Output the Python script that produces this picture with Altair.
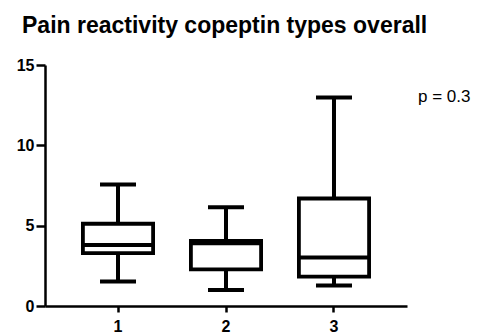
import altair as alt
import pandas as pd

# ---- data ----
categories = ["1", "2", "3"]
whisker_low = [1.52, 1.0, 1.27]
q1 = [3.29, 2.28, 1.83]
median = [3.8, 3.9, 3.02]
q3 = [5.12, 4.05, 6.69]
whisker_high = [7.56, 6.15, 12.98]
y_ticks = [0, 5, 10, 15]
p_label = "p = 0.3"
title_text = "Pain reactivity copeptin types overall"

df = pd.DataFrame({
    "group": categories,
    "low": whisker_low,
    "q1": q1,
    "median": median,
    "q3": q3,
    "high": whisker_high,
})

FONT = "Liberation Sans"
LW = 4

x_axis = alt.Axis(title=None, labelAngle=0, labelFontSize=16, labelFontWeight="bold",
                  labelFont=FONT, labelPadding=6, tickSize=6, tickWidth=2.5,
                  domainWidth=2.5, labelColor="black", tickColor="black", domainColor="black")
y_axis = alt.Axis(title=None, values=y_ticks, labelFontSize=16, labelFontWeight="bold",
                  labelFont=FONT, labelPadding=2, tickSize=9, tickWidth=2.5,
                  domainWidth=2.5, labelColor="black", tickColor="black", domainColor="black",
                  grid=False)

x_enc = alt.X("group:N", sort=categories,
              scale=alt.Scale(paddingInner=0.35, paddingOuter=0.351), axis=x_axis)
y_scale = alt.Scale(domain=[0, 15], nice=False)

def Y(field):
    return alt.Y(f"{field}:Q", scale=y_scale, axis=y_axis)

base = alt.Chart(df)

whiskers = base.mark_rule(color="black", strokeWidth=LW).encode(
    x=x_enc, y=Y("low"), y2="high:Q")
box = base.mark_bar(fill="white", stroke="black", strokeWidth=3.8).encode(
    x=x_enc, y=Y("q1"), y2="q3:Q")
med = base.mark_tick(color="black", thickness=LW, size=70, opacity=1).encode(
    x=x_enc, y=Y("median"))
cap_low = base.mark_tick(color="black", thickness=LW, size=36, opacity=1).encode(
    x=x_enc, y=Y("low"))
cap_high = base.mark_tick(color="black", thickness=LW, size=36, opacity=1).encode(
    x=x_enc, y=Y("high"))
ptext = base.transform_filter(alt.datum.group == categories[-1]).mark_text(
    align="left", baseline="middle", dx=84, fontSize=17, font=FONT, color="black"
).encode(x=x_enc, y=Y("high"), text=alt.value(p_label))

chart = alt.layer(whiskers, box, med, cap_low, cap_high, ptext).properties(
    width=362,
    height=241,
    autosize=alt.AutoSizeParams(type="none"),
    padding={"left": 37, "top": 57, "right": 64, "bottom": 26},
    title=alt.Title(title_text, anchor="start", frame="group", dx=-23, dy=22, offset=23,
                    baseline="alphabetic", fontSize=23, fontWeight="bold", font=FONT,
                    color="black"),
    background="white",
).configure_view(stroke=None)

chart.save("out.html", embed_options={"renderer": "svg", "actions": False})
